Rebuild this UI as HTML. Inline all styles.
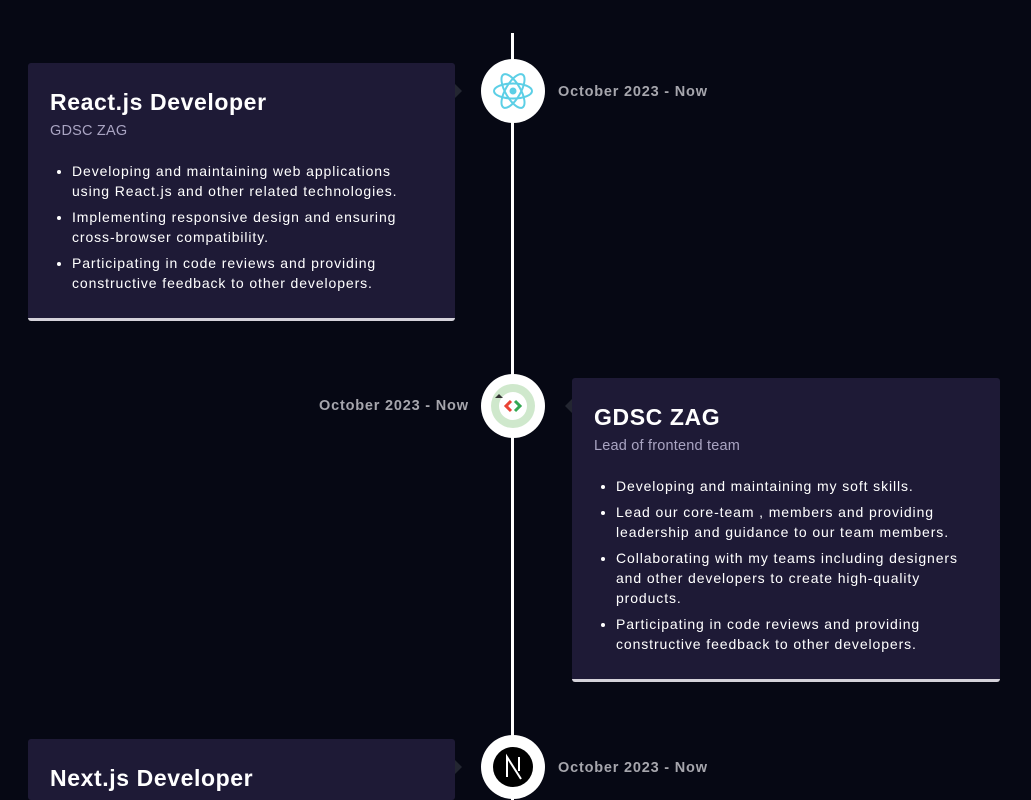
<!DOCTYPE html>
<html><head><style>
html,body{margin:0;width:1031px;height:800px;overflow:hidden}
body{background:#060814;position:relative;font-family:"Liberation Sans",sans-serif;color:#fff}
.line{position:absolute;left:511px;top:33px;width:3px;height:767px;background:#fff}
.card{position:absolute;background:#1e1a36;border-bottom:3px solid #d4d2da;border-radius:3px;box-sizing:border-box;padding:26px 22px 0 22px;overflow:hidden}
.card h3{margin:0;font-size:23px;font-weight:bold;letter-spacing:0.6px}
.card h4{margin:7px 0 0;font-size:14.5px;font-weight:normal;color:#a9a4c2;letter-spacing:0.2px}
.card ul{margin:22px 0 0;padding-left:22px;font-size:14px;line-height:20px;letter-spacing:0.9px;white-space:nowrap}
.card li{margin-bottom:6px}
.arr{position:absolute;width:0;height:0;border-top:7px solid transparent;border-bottom:7px solid transparent}
.circ{position:absolute;width:64px;height:64px;border-radius:50%;background:#fff;left:481px}
.date{position:absolute;font-size:14.5px;font-weight:bold;color:#a6a6ad;letter-spacing:0.8px}
</style></head><body>
<div class="line"></div>

<div class="card" style="left:28px;top:63px;width:427px;height:258px">
<h3>React.js Developer</h3><h4>GDSC ZAG</h4>
<ul><li>Developing and maintaining web applications<br>using React.js and other related technologies.</li>
<li>Implementing responsive design and ensuring<br>cross-browser compatibility.</li>
<li>Participating in code reviews and providing<br>constructive feedback to other developers.</li></ul></div>
<div class="arr" style="left:455px;top:84px;border-left:7px solid #232631"></div>
<div class="circ" style="top:59px"><svg width="64" height="64" viewBox="0 0 64 64"><g fill="none" stroke="#5ccfe6" stroke-width="2"><ellipse cx="32" cy="32" rx="19" ry="7.5"/><ellipse cx="32" cy="32" rx="19" ry="7.5" transform="rotate(60 32 32)"/><ellipse cx="32" cy="32" rx="19" ry="7.5" transform="rotate(120 32 32)"/></g><circle cx="32" cy="32" r="3.5" fill="#5ccfe6"/></svg></div>
<div class="date" style="left:558px;top:84px">October 2023 - Now</div>

<div class="date" style="left:319px;top:398px">October 2023 - Now</div>
<div class="circ" style="top:374px"><svg width="64" height="64" viewBox="0 0 64 64"><circle cx="32" cy="32" r="22" fill="#cfe8cc"/><circle cx="32" cy="32" r="14" fill="#fff"/><path d="M14 24 l4 -4 l4 4z" fill="#333"/><path d="M30 27 l-5 5 l5 5" stroke="#ea4335" stroke-width="3" fill="none"/><path d="M34 27 l5 5 l-5 5" stroke="#34a853" stroke-width="3" fill="none"/></svg></div>
<div class="arr" style="left:565px;top:399px;border-right:7px solid #232631"></div>
<div class="card" style="left:572px;top:378px;width:428px;height:304px">
<h3>GDSC ZAG</h3><h4>Lead of frontend team</h4>
<ul><li>Developing and maintaining my soft skills.</li>
<li>Lead our core-team , members and providing<br>leadership and guidance to our team members.</li>
<li>Collaborating with my teams including designers<br>and other developers to create high-quality<br>products.</li>
<li>Participating in code reviews and providing<br>constructive feedback to other developers.</li></ul></div>

<div class="card" style="left:28px;top:739px;width:427px;height:61px;border-bottom:none">
<h3>Next.js Developer</h3></div>
<div class="arr" style="left:455px;top:760px;border-left:7px solid #232631"></div>
<div class="circ" style="top:735px"><svg width="64" height="64" viewBox="0 0 64 64"><circle cx="32" cy="32" r="20" fill="#000"/><path d="M26 42 V22 L40 44 M38 22 V36" stroke="#fff" stroke-width="2" fill="none"/></svg></div>
<div class="date" style="left:558px;top:760px">October 2023 - Now</div>
</body></html>
